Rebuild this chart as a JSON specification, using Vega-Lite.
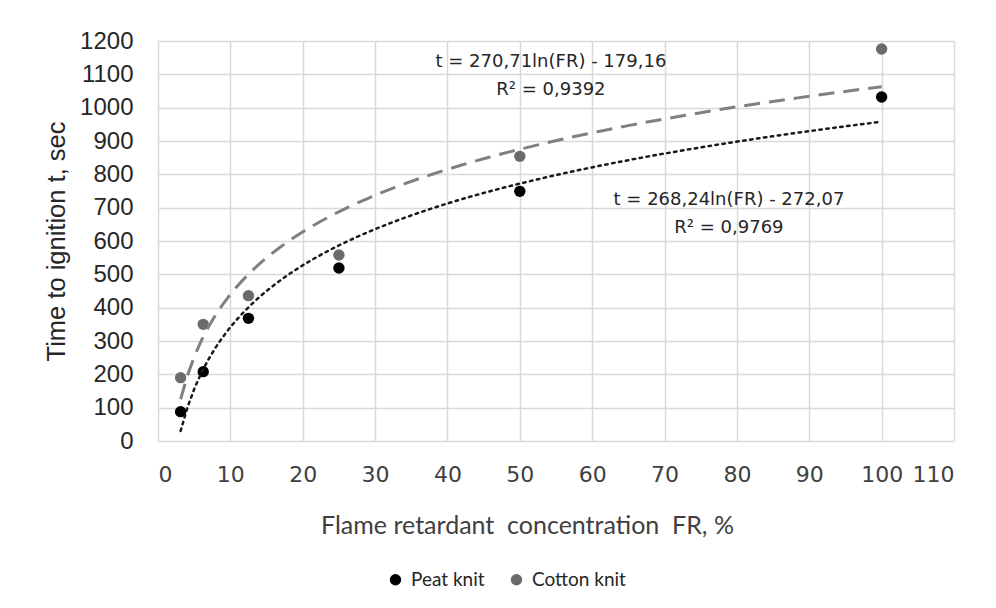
{
  "$schema": "https://vega.github.io/schema/vega-lite/v6.json",
  "width": 796,
  "height": 400,
  "autosize": {"type": "none"},
  "padding": {"left": 158, "top": 41, "right": 42, "bottom": 167},
  "background": "white",
  "config": {"view": {"stroke": null}},
  "datasets": {
    "pts": [
      {"FR": 3.125, "t": 88, "series": "Peat knit"},
      {"FR": 6.25, "t": 208, "series": "Peat knit"},
      {"FR": 12.5, "t": 368, "series": "Peat knit"},
      {"FR": 25, "t": 519, "series": "Peat knit"},
      {"FR": 50, "t": 749, "series": "Peat knit"},
      {"FR": 100, "t": 1032, "series": "Peat knit"},
      {"FR": 3.125, "t": 190, "series": "Cotton knit"},
      {"FR": 6.25, "t": 350, "series": "Cotton knit"},
      {"FR": 12.5, "t": 436, "series": "Cotton knit"},
      {"FR": 25, "t": 558, "series": "Cotton knit"},
      {"FR": 50, "t": 854, "series": "Cotton knit"},
      {"FR": 100, "t": 1176, "series": "Cotton knit"}
    ],
    "notes": [
      {"FR": 54.3, "t": 1136, "label": "t = 270,71ln(FR) - 179,16"},
      {"FR": 54.3, "t": 1052, "label": "R² = 0,9392"},
      {"FR": 78.9, "t": 722, "label": "t = 268,24ln(FR) - 272,07"},
      {"FR": 78.9, "t": 638, "label": "R² = 0,9769"}
    ]
  },
  "encoding": {
    "x": {
      "field": "FR", "type": "quantitative",
      "scale": {"domain": [0, 110], "nice": false},
      "axis": {
        "title": "Flame retardant\u00a0 concentration\u00a0 FR, %",
        "values": [0, 10, 20, 30, 40, 50, 60, 70, 80, 90, 100, 110],
        "format": "d", "labelOverlap": false,
        "grid": true, "gridColor": "#d9d9d9", "gridWidth": 1.5,
        "domain": false, "ticks": false,
        "labelFont": "DejaVu Sans", "labelFontSize": 22, "labelColor": "#404040", "labelPadding": 23,
        "titleFont": "Lato", "titleFontSize": 25, "titleFontWeight": "normal", "titleColor": "#404040",
        "titleX": 369, "titleY": 72, "titleAnchor": "middle"
      }
    },
    "y": {
      "field": "t", "type": "quantitative",
      "scale": {"domain": [0, 1200], "nice": false},
      "axis": {
        "title": "Time to ignition t, sec",
        "values": [0, 100, 200, 300, 400, 500, 600, 700, 800, 900, 1000, 1100, 1200],
        "format": "d", "labelOverlap": false,
        "grid": true, "gridColor": "#d9d9d9", "gridWidth": 1.5,
        "domain": false, "ticks": false,
        "labelFont": "Liberation Sans", "labelFontSize": 24, "labelColor": "#262626", "labelPadding": 25,
        "titleFont": "Liberation Sans", "titleFontSize": 25.5, "titleFontWeight": "normal", "titleColor": "#262626",
        "titlePadding": 10
      }
    }
  },
  "layer": [
    {
      "data": {"name": "pts"},
      "mark": {"type": "point", "filled": true, "shape": "circle", "size": 130, "opacity": 1},
      "encoding": {
        "color": {
          "field": "series", "type": "nominal",
          "scale": {"domain": ["Peat knit", "Cotton knit"], "range": ["#000000", "#6b6b6b"]},
          "legend": {
            "title": null, "orient": "none", "direction": "horizontal",
            "legendX": 228, "legendY": 529,
            "symbolType": "circle", "symbolSize": 130, "symbolStrokeWidth": 0,
            "labelFont": "Lato", "labelFontSize": 19, "labelColor": "#262626",
            "labelOffset": 6, "columnPadding": 22, "padding": 0
          }
        }
      }
    },
    {
      "data": {"name": "pts"},
      "transform": [
        {"filter": "datum.series === 'Cotton knit'"},
        {"regression": "t", "on": "FR", "method": "log", "extent": [3.125, 100]}
      ],
      "mark": {"type": "line", "color": "#808080", "strokeWidth": 3, "strokeDash": [16, 9]}
    },
    {
      "data": {"name": "pts"},
      "transform": [
        {"filter": "datum.series === 'Peat knit'"},
        {"regression": "t", "on": "FR", "method": "log", "extent": [3.125, 100]}
      ],
      "mark": {"type": "line", "color": "#1a1a1a", "strokeWidth": 2.5, "strokeDash": [2.5, 4.5], "strokeCap": "round"}
    },
    {
      "data": {"name": "notes"},
      "mark": {"type": "text", "font": "DejaVu Sans", "fontSize": 18, "color": "#262626", "align": "center", "baseline": "middle"},
      "encoding": {
        "text": {"field": "label"}
      }
    }
  ]
}
